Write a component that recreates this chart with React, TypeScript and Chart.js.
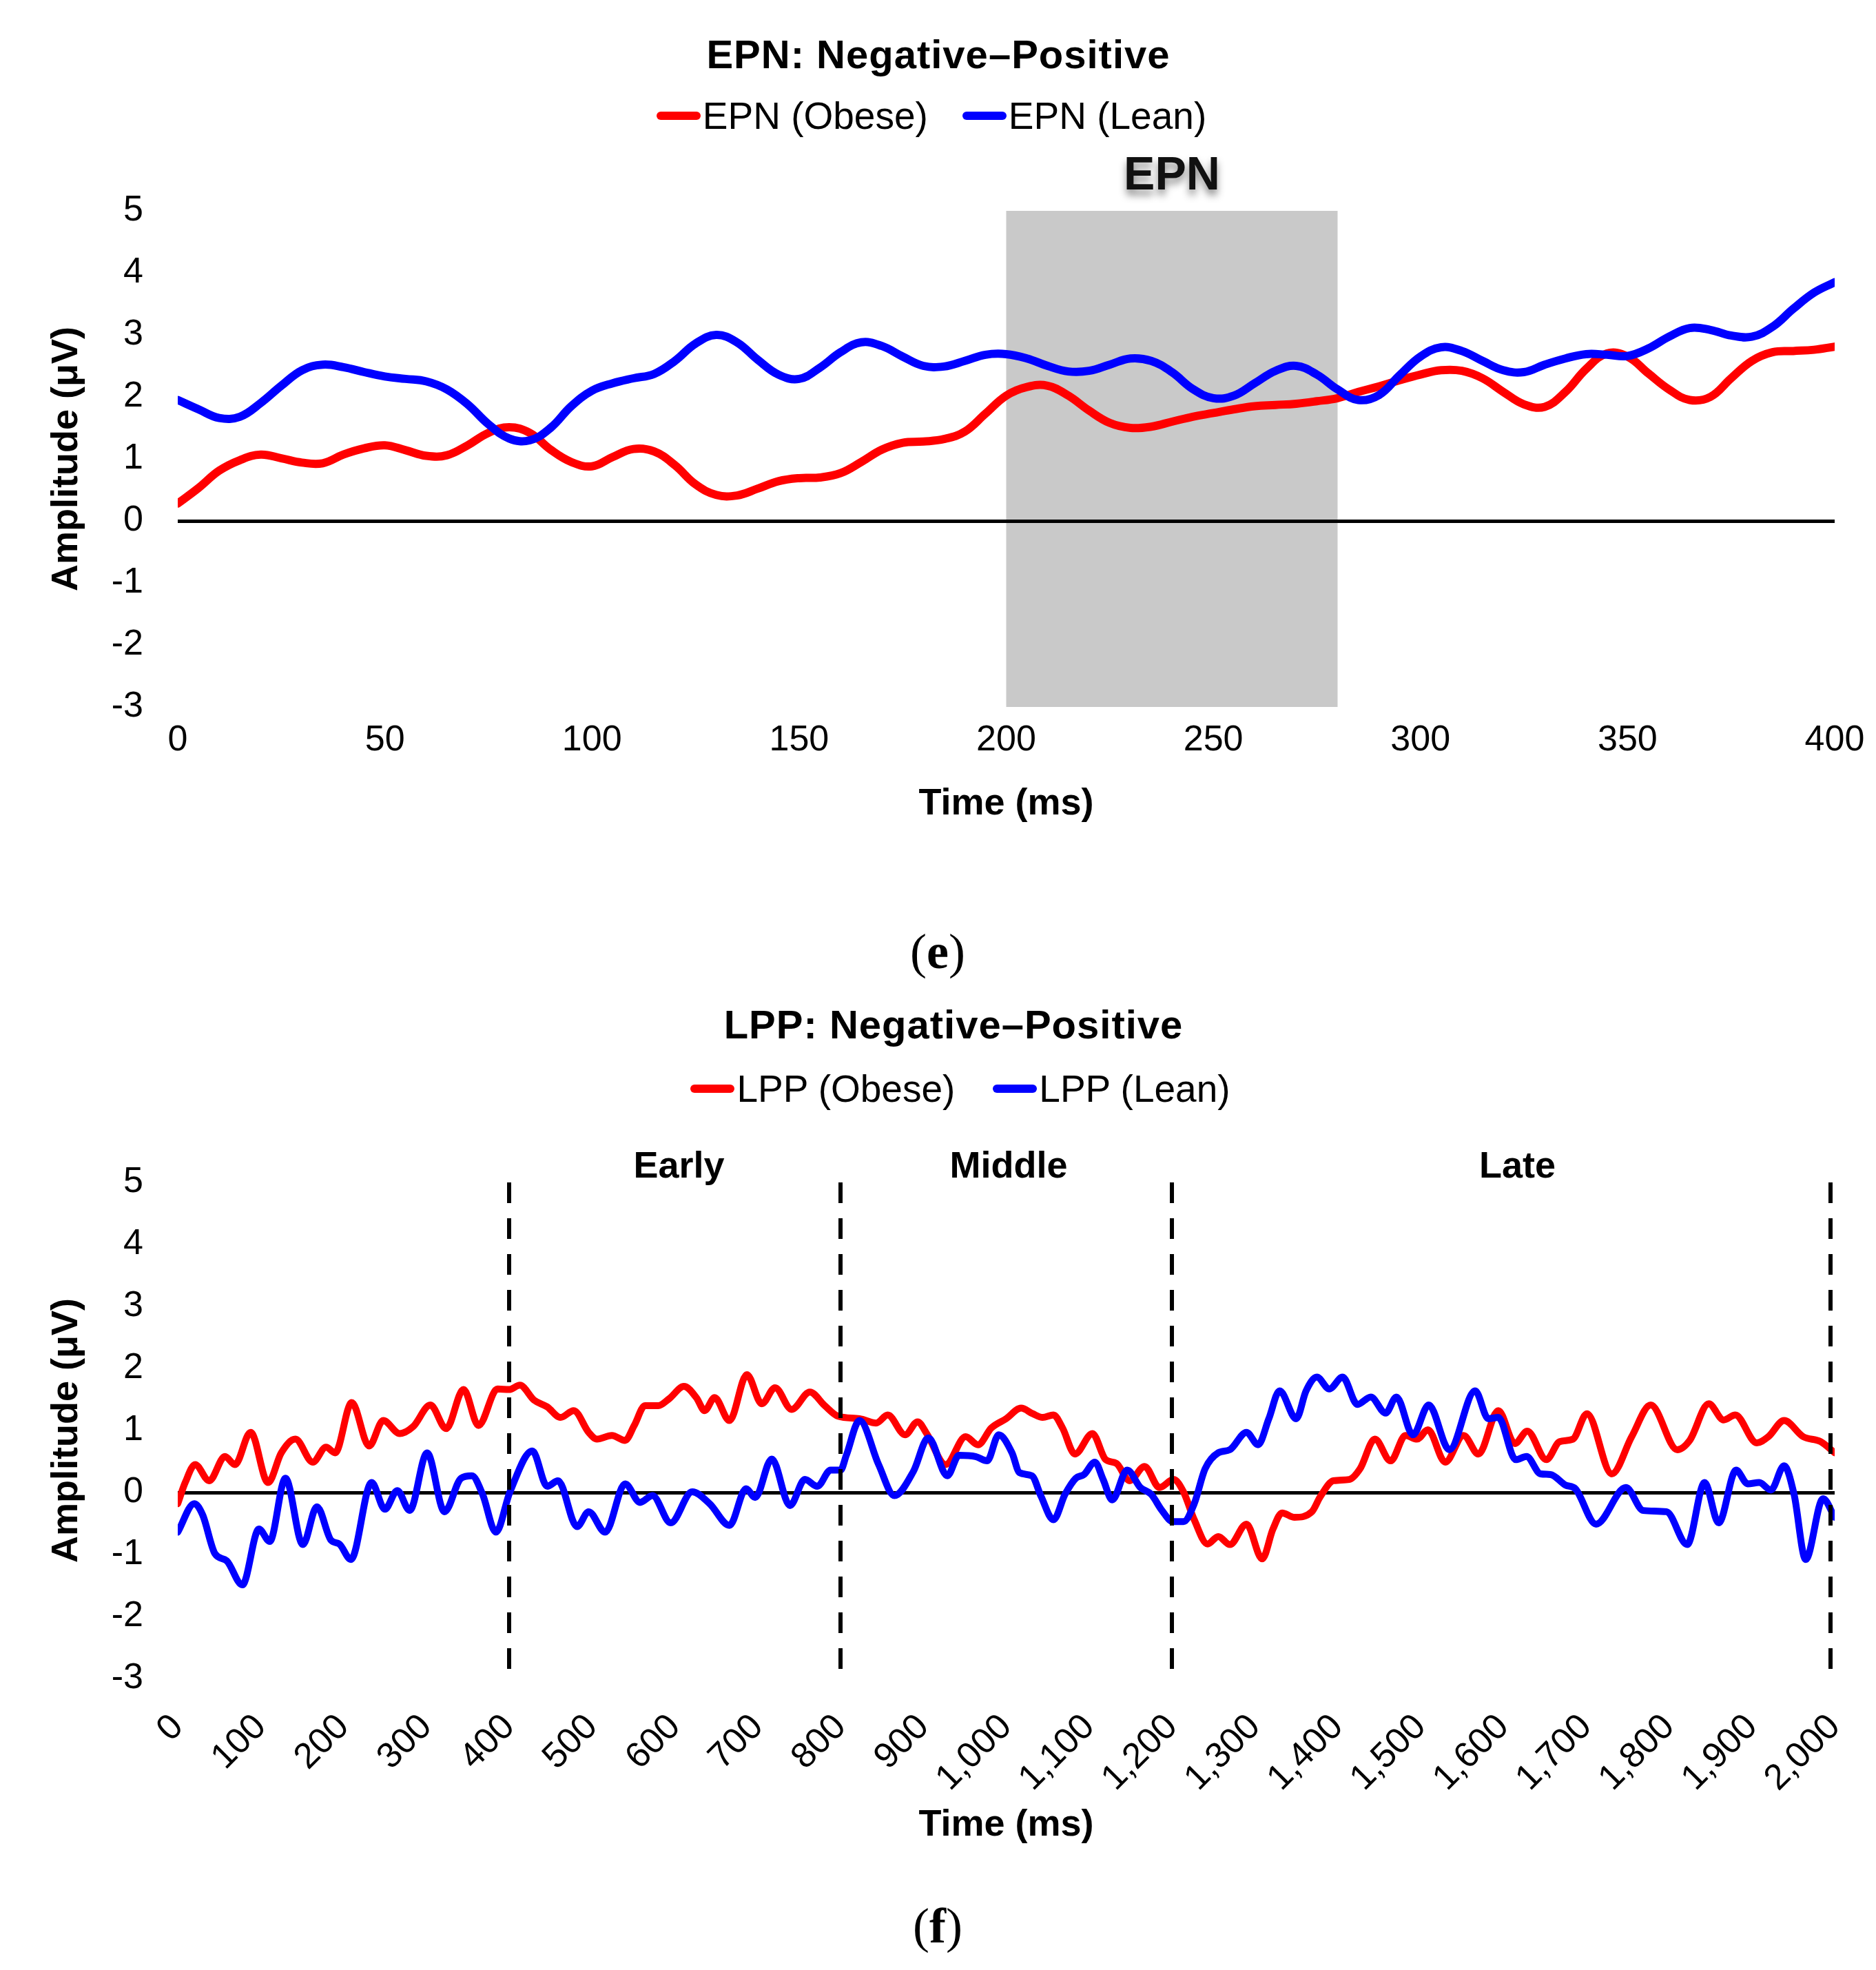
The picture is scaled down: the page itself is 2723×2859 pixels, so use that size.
import React, { useEffect, useRef } from 'react';
import Chart from 'chart.js/auto';

// === Page / styling ===
const PAGE_W = 2723;
const PAGE_H = 2859;
const SANS = '"Liberation Sans", Arial, Helvetica, sans-serif';
const SERIF = '"Liberation Serif", "Times New Roman", Times, serif';
const OBESE_COLOR = '#ff0000';
const LEAN_COLOR = '#0000ff';

// === Shared axes ===
const Y_TICKS = [-3, -2, -1, 0, 1, 2, 3, 4, 5];
const Y_TITLE = 'Amplitude (μV)';
const X_TITLE = 'Time (ms)';

// === (e) EPN ===
const EPN_TITLE = 'EPN: Negative–Positive';
const EPN_SERIES = ['EPN (Obese)', 'EPN (Lean)'];
const EPN_LABEL = 'EPN';
const EPN_WINDOW = [200, 280];
const EPN_X_TICKS = [0, 50, 100, 150, 200, 250, 300, 350, 400];
const EPN_TIME = [
  0, 5, 10, 15, 20, 25, 30, 35, 40, 45,
  50, 55, 60, 65, 70, 75, 80, 85, 90, 95,
  100, 105, 110, 115, 120, 125, 130, 135, 140, 145,
  150, 155, 160, 165, 170, 175, 180, 185, 190, 195,
  200, 205, 210, 215, 220, 225, 230, 235, 240, 245,
  250, 255, 260, 265, 270, 275, 280, 285, 290, 295,
  300, 305, 310, 315, 320, 325, 330, 335, 340, 345,
  350, 355, 360, 365, 370, 375, 380, 385, 390, 395,
  400,
];
const EPN_OBESE = [
  0.28, 0.53, 0.81, 0.98, 1.07, 1.01, 0.94, 0.93, 1.07, 1.17,
  1.22, 1.14, 1.05, 1.06, 1.22, 1.42, 1.51, 1.42, 1.15, 0.95,
  0.88, 1.03, 1.16, 1.12, 0.90, 0.59, 0.42, 0.41, 0.52, 0.64,
  0.69, 0.70, 0.77, 0.95, 1.15, 1.26, 1.28, 1.32, 1.44, 1.73,
  2.02, 2.16, 2.18, 2.02, 1.78, 1.58, 1.50, 1.52, 1.60, 1.68,
  1.74, 1.80, 1.85, 1.87, 1.89, 1.93, 1.98, 2.08, 2.17, 2.27,
  2.36, 2.43, 2.42, 2.30, 2.08, 1.88, 1.84, 2.08, 2.45, 2.70,
  2.65, 2.38, 2.12, 1.95, 2.00, 2.30, 2.58, 2.72, 2.74, 2.76,
  2.81,
];
const EPN_LEAN = [
  1.95, 1.80, 1.66, 1.68, 1.90, 2.18, 2.43, 2.52, 2.48, 2.40,
  2.33, 2.29, 2.25, 2.12, 1.88, 1.56, 1.33, 1.30, 1.50, 1.85,
  2.10, 2.22, 2.30, 2.37, 2.58, 2.86, 3.00, 2.88, 2.60, 2.36,
  2.29, 2.47, 2.72, 2.88, 2.82, 2.65, 2.50, 2.49, 2.58, 2.68,
  2.69, 2.62, 2.50, 2.41, 2.42, 2.52, 2.62, 2.58, 2.40, 2.13,
  1.98, 2.02, 2.22, 2.42, 2.50, 2.36, 2.12, 1.95, 2.03, 2.35,
  2.65, 2.80, 2.74, 2.58, 2.43, 2.40, 2.52, 2.62, 2.69, 2.68,
  2.66, 2.78, 2.97, 3.11, 3.08, 2.99, 2.97, 3.13, 3.42, 3.68,
  3.85,
];

// === (f) LPP ===
const LPP_TITLE = 'LPP: Negative–Positive';
const LPP_SERIES = ['LPP (Obese)', 'LPP (Lean)'];
const LPP_X_TICKS = [
  0, 100, 200, 300, 400, 500, 600, 700, 800, 900, 1000,
  1100, 1200, 1300, 1400, 1500, 1600, 1700, 1800, 1900, 2000,
];
const LPP_BOUNDS = [400, 800, 1200, 1995];
const LPP_PHASES = ['Early', 'Middle', 'Late'];
const LPP_PHASE_AT = [605, 1003, 1617];

const LPP_OBESE_TIME = [
  0, 9, 21, 38, 57, 69, 88, 109, 125, 142,
  163, 179, 190, 210, 231, 248, 268, 284, 305, 324,
  345, 363, 386, 400, 413, 430, 446, 462, 478, 496,
  506, 524, 540, 551, 564, 580, 593, 611, 626, 636,
  648, 666, 687, 705, 721, 741, 763, 781, 797, 823,
  843, 857, 878, 893, 904, 927, 951, 966, 982, 1000,
  1018, 1032, 1044, 1057, 1068, 1083, 1104, 1120, 1133, 1149,
  1167, 1185, 1202, 1214, 1227, 1243, 1256, 1270, 1290, 1309,
  1322, 1333, 1348, 1369, 1379, 1395, 1414, 1427, 1445, 1464,
  1482, 1496, 1509, 1530, 1552, 1570, 1594, 1614, 1629, 1652,
  1668, 1684, 1701, 1731, 1755, 1778, 1810, 1825, 1848, 1866,
  1880, 1906, 1920, 1939, 1962, 1983, 2000,
];
const LPP_OBESE = [
  -0.18, 0.16, 0.45, 0.19, 0.58, 0.45, 0.97, 0.16, 0.64, 0.86,
  0.49, 0.73, 0.64, 1.45, 0.75, 1.16, 0.95, 1.06, 1.41, 1.03,
  1.66, 1.08, 1.67, 1.66, 1.73, 1.49, 1.38, 1.21, 1.32, 0.97,
  0.86, 0.92, 0.84, 1.08, 1.40, 1.40, 1.51, 1.71, 1.53, 1.32,
  1.53, 1.16, 1.90, 1.43, 1.69, 1.34, 1.62, 1.40, 1.23, 1.19,
  1.12, 1.25, 0.93, 1.14, 0.95, 0.45, 0.90, 0.77, 1.04, 1.19,
  1.36, 1.27, 1.21, 1.25, 1.04, 0.62, 0.95, 0.53, 0.47, 0.19,
  0.42, 0.08, 0.21, 0.01, -0.44, -0.83, -0.71, -0.84, -0.51, -1.07,
  -0.59, -0.33, -0.40, -0.31, -0.07, 0.19, 0.21, 0.38, 0.86, 0.51,
  0.92, 0.86, 1.01, 0.49, 0.92, 0.62, 1.32, 0.79, 0.99, 0.53,
  0.82, 0.86, 1.27, 0.30, 0.90, 1.41, 0.69, 0.84, 1.43, 1.17,
  1.25, 0.80, 0.90, 1.16, 0.90, 0.82, 0.64,
];

const LPP_LEAN_TIME = [
  0, 20, 30, 45, 59, 78, 98, 111, 130, 151,
  168, 185, 195, 209, 234, 250, 265, 280, 301, 322,
  342, 355, 368, 384, 401, 428, 446, 459, 482, 496,
  516, 540, 558, 573, 595, 621, 642, 666, 686, 697,
  717, 739, 757, 772, 788, 800, 807, 823, 846, 865,
  888, 906, 929, 943, 963, 977, 991, 1007, 1016, 1031,
  1042, 1057, 1071, 1084, 1094, 1107, 1117, 1128, 1146, 1162,
  1175, 1188, 1201, 1214, 1227, 1240, 1256, 1270, 1290, 1304,
  1317, 1330, 1350, 1362, 1375, 1390, 1406, 1424, 1440, 1458,
  1471, 1491, 1510, 1535, 1566, 1582, 1594, 1615, 1628, 1645,
  1657, 1675, 1687, 1712, 1748, 1769, 1797, 1822, 1843, 1860,
  1881, 1895, 1909, 1923, 1939, 1951, 1965, 1986, 2000,
];
const LPP_LEAN = [
  -0.64, -0.18, -0.36, -0.99, -1.10, -1.49, -0.59, -0.79, 0.23, -0.84,
  -0.23, -0.77, -0.83, -1.08, 0.16, -0.27, 0.03, -0.29, 0.64, -0.31,
  0.23, 0.27, -0.03, -0.64, 0.01, 0.67, 0.10, 0.19, -0.55, -0.31,
  -0.64, 0.14, -0.16, -0.05, -0.49, 0.01, -0.18, -0.53, 0.06, -0.08,
  0.54, -0.21, 0.21, 0.10, 0.36, 0.36, 0.60, 1.16, 0.45, -0.05,
  0.34, 0.88, 0.27, 0.60, 0.58, 0.51, 0.93, 0.64, 0.32, 0.27,
  -0.06, -0.44, -0.03, 0.23, 0.29, 0.49, 0.21, -0.12, 0.36, 0.08,
  -0.03, -0.29, -0.47, -0.47, -0.18, 0.38, 0.64, 0.69, 0.97, 0.77,
  1.19, 1.64, 1.19, 1.64, 1.86, 1.67, 1.86, 1.42, 1.54, 1.28,
  1.54, 0.93, 1.41, 0.69, 1.64, 1.19, 1.21, 0.53, 0.58, 0.30,
  0.29, 0.12, 0.06, -0.51, 0.08, -0.29, -0.31, -0.84, 0.16, -0.49,
  0.36, 0.14, 0.16, 0.04, 0.43, -0.03, -1.08, -0.10, -0.40,
];

// === Helpers ===
const toPoints = (times: number[], values: number[]) =>
  times.map((t, i) => ({ x: t, y: values[i] }));

const tickFont = { family: SANS, size: 52 };
const axisTitleFont = { family: SANS, size: 54, weight: 'bold' as const };

// keep the plot box fixed: no extra inset for overhanging tick labels
const noOverhang = (s: any) => {
  s.paddingLeft = 0;
  s.paddingRight = 0;
  s.paddingTop = 0;
  s.paddingBottom = 0;
};

interface PanelSpec {
  padTop: number;
  padBottom: number;
  xHeight: number;
  xTicks: number[];
  rotation: number;
  tickPadding: number;
  lineWidth: number;
  smooth: 'monotone' | 'default';
  datasets: any[];
  plugin: any;
}

const buildConfig = (p: PanelSpec): any => ({
  type: 'line',
  data: { datasets: p.datasets },
  plugins: [p.plugin],
  options: {
    animation: false,
    responsive: false,
    devicePixelRatio: 1,
    events: [],
    layout: { padding: { left: 40, right: 60, top: p.padTop, bottom: p.padBottom } },
    plugins: {
      legend: { display: false },
      title: { display: false },
      tooltip: { enabled: false },
    },
    elements: {
      point: { radius: 0 },
      line: {
        borderWidth: p.lineWidth,
        tension: 0.4,
        cubicInterpolationMode: p.smooth,
        borderJoinStyle: 'round',
        borderCapStyle: 'round',
      },
    },
    scales: {
      x: {
        type: 'linear',
        min: p.xTicks[0],
        max: p.xTicks[p.xTicks.length - 1],
        afterBuildTicks: (s: any) => {
          s.ticks = p.xTicks.map(v => ({ value: v }));
        },
        afterFit: (s: any) => {
          s.height = p.xHeight;
          noOverhang(s);
        },
        border: { display: false },
        grid: { display: false, drawTicks: false },
        ticks: {
          font: tickFont,
          color: '#000',
          padding: p.tickPadding,
          autoSkip: false,
          minRotation: p.rotation,
          maxRotation: p.rotation,
          callback: (v: any) => Number(v).toLocaleString('en-US'),
        },
        title: {
          display: true,
          text: X_TITLE,
          font: axisTitleFont,
          color: '#000',
          padding: { top: 0, bottom: 0 },
        },
      },
      y: {
        min: Y_TICKS[0],
        max: Y_TICKS[Y_TICKS.length - 1],
        afterBuildTicks: (s: any) => {
          s.ticks = Y_TICKS.map(v => ({ value: v }));
        },
        afterFit: (s: any) => {
          s.width = 218;
          noOverhang(s);
        },
        border: { display: false },
        grid: {
          drawTicks: false,
          color: (c: any) => (c.tick && c.tick.value === 0 ? '#000' : 'rgba(0,0,0,0)'),
          lineWidth: (c: any) => (c.tick && c.tick.value === 0 ? 5 : 0),
        },
        ticks: { font: tickFont, color: '#000', padding: 50 },
        title: {
          display: true,
          text: Y_TITLE,
          font: axisTitleFont,
          color: '#000',
          padding: { top: 25, bottom: 0 },
        },
      },
    },
  },
});

// === Plugins ===
const epnWindowPlugin = {
  id: 'epnWindow',
  beforeDraw(chart: any) {
    const { ctx, chartArea: a, scales: { x } } = chart;
    const x0 = x.getPixelForValue(EPN_WINDOW[0]);
    const x1 = x.getPixelForValue(EPN_WINDOW[1]);
    ctx.save();
    ctx.fillStyle = '#c9c9c9';
    ctx.fillRect(x0, a.top, x1 - x0, a.bottom - a.top);
    ctx.restore();
  },
  afterDraw(chart: any) {
    const { ctx, chartArea: a, scales: { x } } = chart;
    const cx = (x.getPixelForValue(EPN_WINDOW[0]) + x.getPixelForValue(EPN_WINDOW[1])) / 2;
    ctx.save();
    ctx.font = `bold 68px ${SANS}`;
    ctx.textAlign = 'center';
    ctx.textBaseline = 'middle';
    ctx.shadowColor = 'rgba(0,0,0,0.45)';
    ctx.shadowBlur = 12;
    ctx.shadowOffsetY = 8;
    ctx.fillStyle = '#111';
    ctx.fillText(EPN_LABEL, cx, a.top - 50);
    ctx.restore();
  },
};

const lppPhasePlugin = {
  id: 'lppPhases',
  afterDatasetsDraw(chart: any) {
    const { ctx, chartArea: a, scales: { x } } = chart;
    ctx.save();
    ctx.strokeStyle = '#000';
    ctx.lineWidth = 6;
    ctx.setLineDash([30, 22]);
    LPP_BOUNDS.forEach(b => {
      const px = x.getPixelForValue(b);
      ctx.beginPath();
      ctx.moveTo(px, a.top);
      ctx.lineTo(px, a.bottom);
      ctx.stroke();
    });
    ctx.restore();
  },
  afterDraw(chart: any) {
    const { ctx, chartArea: a, scales: { x } } = chart;
    ctx.save();
    ctx.font = `bold 54px ${SANS}`;
    ctx.textAlign = 'center';
    ctx.textBaseline = 'middle';
    ctx.fillStyle = '#000';
    LPP_PHASES.forEach((name, i) => {
      ctx.fillText(name, x.getPixelForValue(LPP_PHASE_AT[i]), a.top - 22);
    });
    ctx.restore();
  },
};

const lineSet = (label: string, color: string, data: any[], order: number) => ({
  label,
  data,
  borderColor: color,
  backgroundColor: color,
  fill: false,
  order,
});

const epnConfig = () =>
  buildConfig({
    padTop: 306,
    padBottom: 50,
    xHeight: 174,
    xTicks: EPN_X_TICKS,
    rotation: 0,
    tickPadding: 17,
    lineWidth: 12,
    smooth: 'default',
    plugin: epnWindowPlugin,
    datasets: [
      lineSet(EPN_SERIES[0], OBESE_COLOR, toPoints(EPN_TIME, EPN_OBESE), 1),
      lineSet(EPN_SERIES[1], LEAN_COLOR, toPoints(EPN_TIME, EPN_LEAN), 0),
    ],
  });

const lppConfig = () =>
  buildConfig({
    padTop: 316,
    padBottom: 18,
    xHeight: 246,
    xTicks: LPP_X_TICKS,
    rotation: 45,
    tickPadding: 40,
    lineWidth: 10,
    smooth: 'monotone',
    plugin: lppPhasePlugin,
    datasets: [
      lineSet(LPP_SERIES[0], OBESE_COLOR, toPoints(LPP_OBESE_TIME, LPP_OBESE), 1),
      lineSet(LPP_SERIES[1], LEAN_COLOR, toPoints(LPP_LEAN_TIME, LPP_LEAN), 0),
    ],
  });

// === Components ===
const Panel: React.FC<{ top: number; height: number; config: () => any }> = ({ top, height, config }) => {
  const ref = useRef<HTMLCanvasElement>(null);
  useEffect(() => {
    if (!ref.current) return;
    const chart = new Chart(ref.current, config());
    return () => chart.destroy();
  }, [config]);
  return (
    <canvas
      ref={ref}
      width={PAGE_W}
      height={height}
      style={{ position: 'absolute', left: 0, top, width: PAGE_W, height }}
    />
  );
};

const Centered: React.FC<{ cx: number; cy: number; lineH: number; style?: React.CSSProperties; children: React.ReactNode }> = ({
  cx,
  cy,
  lineH,
  style,
  children,
}) => (
  <div
    style={{
      position: 'absolute',
      left: cx - 1000,
      width: 2000,
      top: cy - lineH / 2,
      height: lineH,
      lineHeight: `${lineH}px`,
      textAlign: 'center',
      whiteSpace: 'nowrap',
      color: '#000',
      ...style,
    }}
  >
    {children}
  </div>
);

const Legend: React.FC<{ names: string[]; cx: number; cy: number; gap: number }> = ({ names, cx, cy, gap }) => {
  const colors = [OBESE_COLOR, LEAN_COLOR];
  return (
    <div
      style={{
        position: 'absolute',
        left: cx - 1000,
        width: 2000,
        top: cy - 35,
        height: 70,
        display: 'flex',
        justifyContent: 'center',
        alignItems: 'center',
        gap,
        fontFamily: SANS,
        fontSize: 55,
        lineHeight: '70px',
        color: '#000',
        whiteSpace: 'nowrap',
      }}
    >
      {names.map((n, i) => (
        <div key={n} style={{ display: 'flex', alignItems: 'center' }}>
          <span
            style={{
              display: 'inline-block',
              width: 64,
              height: 12,
              borderRadius: 6,
              background: colors[i],
              marginRight: 3,
            }}
          />
          {n}
        </div>
      ))}
    </div>
  );
};

export default function App() {
  return (
    <div
      style={{
        position: 'absolute',
        left: 0,
        top: 0,
        width: PAGE_W,
        height: PAGE_H,
        background: '#fff',
        overflow: 'hidden',
        fontFamily: SANS,
      }}
    >
      {/* (e) EPN */}
      <Panel top={0} height={1250} config={epnConfig} />
      <Centered cx={1362} cy={79} lineH={70} style={{ fontSize: 58, fontWeight: 'bold', letterSpacing: 1 }}>
        {EPN_TITLE}
      </Centered>
      <Legend names={EPN_SERIES} cx={1352} cy={168} gap={50} />
      <Centered cx={1361} cy={1381} lineH={90} style={{ fontFamily: SERIF, fontSize: 72 }}>
        <span style={{ fontWeight: 'normal' }}>(</span>
        <b>e</b>
        <span style={{ fontWeight: 'normal' }}>)</span>
      </Centered>

      {/* (f) LPP */}
      <Panel top={1400} height={1300} config={lppConfig} />
      <Centered cx={1384} cy={1487} lineH={70} style={{ fontSize: 58, fontWeight: 'bold', letterSpacing: 1 }}>
        {LPP_TITLE}
      </Centered>
      <Legend names={LPP_SERIES} cx={1394} cy={1580} gap={55} />
      <Centered cx={1361} cy={2795} lineH={90} style={{ fontFamily: SERIF, fontSize: 72 }}>
        <span style={{ fontWeight: 'normal' }}>(</span>
        <b>f</b>
        <span style={{ fontWeight: 'normal' }}>)</span>
      </Centered>
    </div>
  );
}
